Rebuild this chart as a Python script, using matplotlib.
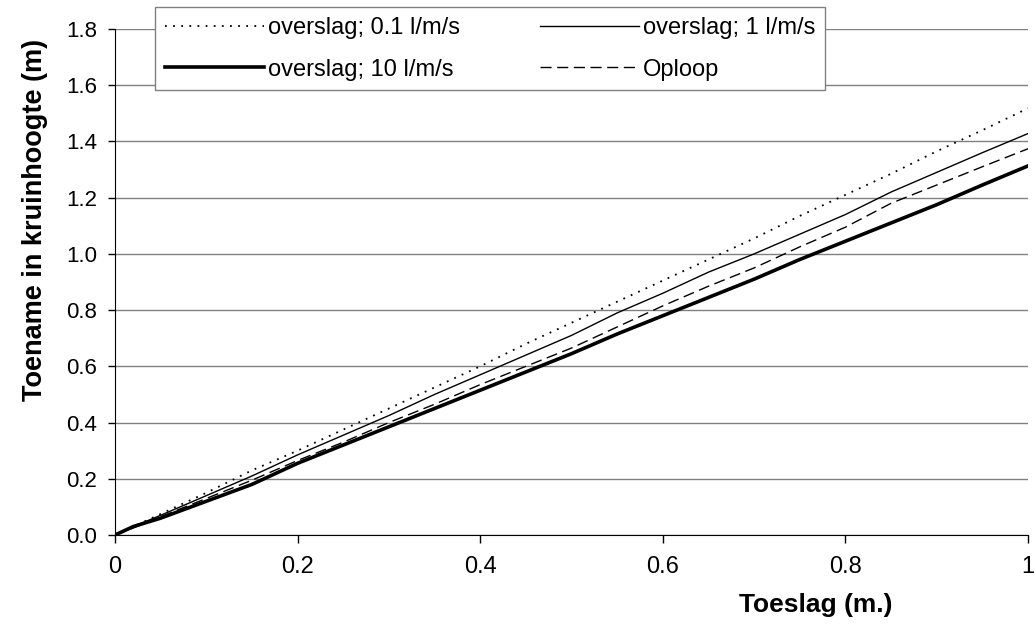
import numpy as np
import matplotlib
matplotlib.use("Agg")
import matplotlib.pyplot as plt

plt.rcParams['font.family'] = ['Liberation Sans', 'DejaVu Sans']

toeslag = [0.0, 0.02, 0.05, 0.1, 0.15, 0.2, 0.25, 0.3, 0.35, 0.4, 0.45, 0.5,
           0.55, 0.6, 0.65, 0.7, 0.75, 0.8, 0.85, 0.9, 0.95, 1.0]

overslag_01 = [0.0, 0.03, 0.075, 0.15, 0.23, 0.30, 0.375, 0.45, 0.525, 0.60, 0.68, 0.755,
               0.83, 0.905, 0.98, 1.055, 1.135, 1.21, 1.285, 1.365, 1.44, 1.518]
overslag_1 = [0.0, 0.03, 0.07, 0.14, 0.21, 0.285, 0.355, 0.425, 0.50, 0.57, 0.64, 0.71,
              0.79, 0.86, 0.935, 1.0, 1.07, 1.14, 1.22, 1.29, 1.36, 1.428]
overslag_10 = [0.0, 0.03, 0.06, 0.12, 0.18, 0.255, 0.32, 0.385, 0.45, 0.515, 0.58, 0.645,
               0.715, 0.78, 0.845, 0.91, 0.98, 1.045, 1.11, 1.175, 1.245, 1.313]
oploop = [0.0, 0.025, 0.065, 0.13, 0.195, 0.265, 0.33, 0.40, 0.465, 0.535, 0.60, 0.665,
          0.74, 0.815, 0.885, 0.95, 1.025, 1.095, 1.18, 1.245, 1.31, 1.374]

x_ticks = [0, 0.2, 0.4, 0.6, 0.8, 1.0]
x_labels = ['0', '0.2', '0.4', '0.6', '0.8', '1']
y_ticks = [0, 0.2, 0.4, 0.6, 0.8, 1.0, 1.2, 1.4, 1.6, 1.8]

fig = plt.figure(figsize=(10.35, 6.24), dpi=100)
ax = fig.add_axes([115 / 1035, 89 / 624, 913 / 1035, 506 / 624])

l1, = ax.plot(toeslag, overslag_01, color='black', lw=1.3, linestyle=(0, (1, 3.5)))
l2, = ax.plot(toeslag, overslag_1, color='black', lw=1.0)
l3, = ax.plot(toeslag, overslag_10, color='black', lw=2.6)
l4, = ax.plot(toeslag, oploop, color='black', lw=1.0, linestyle=(0, (8, 4)))

ax.set_xlim(0, 1)
ax.set_ylim(0, 1.8)
ax.set_xticks(x_ticks)
ax.set_xticklabels(x_labels)
ax.set_yticks(y_ticks)
ax.set_yticklabels([f'{v:.1f}' for v in y_ticks])
ax.yaxis.grid(True, color='#808080', lw=1)
ax.set_axisbelow(True)
for s in ['top', 'right']:
    ax.spines[s].set_visible(False)
ax.tick_params(axis='x', direction='out', length=6, width=1, labelsize=17, pad=9)
ax.tick_params(axis='y', direction='out', length=5, width=1, labelsize=16, pad=8)

ax.set_xlabel('Toeslag (m.)', fontsize=19, fontweight='bold', va='center')
ax.xaxis.set_label_coords(0.768, -0.138)
ax.set_ylabel('Toename in kruinhoogte (m)', fontsize=19.5, fontweight='bold', va='center')
ax.yaxis.set_label_coords(-0.088, 0.622)

# volgorde zodat de legenda per rij loopt
leg = fig.legend([l1, l3, l2, l4],
                 ['overslag; 0.1 l/m/s', 'overslag; 10 l/m/s', 'overslag; 1 l/m/s', 'Oploop'],
                 loc='upper left', bbox_to_anchor=(155 / 1035, 1 - 7 / 624),
                 ncol=2, fontsize=17, handlelength=4.2, handletextpad=0.15,
                 columnspacing=3.4, frameon=True, fancybox=False, edgecolor='#808080',
                 framealpha=1, borderaxespad=0, labelspacing=0.83, borderpad=0.42)
leg.get_frame().set_linewidth(1)

fig.savefig('out.png', dpi=100)
